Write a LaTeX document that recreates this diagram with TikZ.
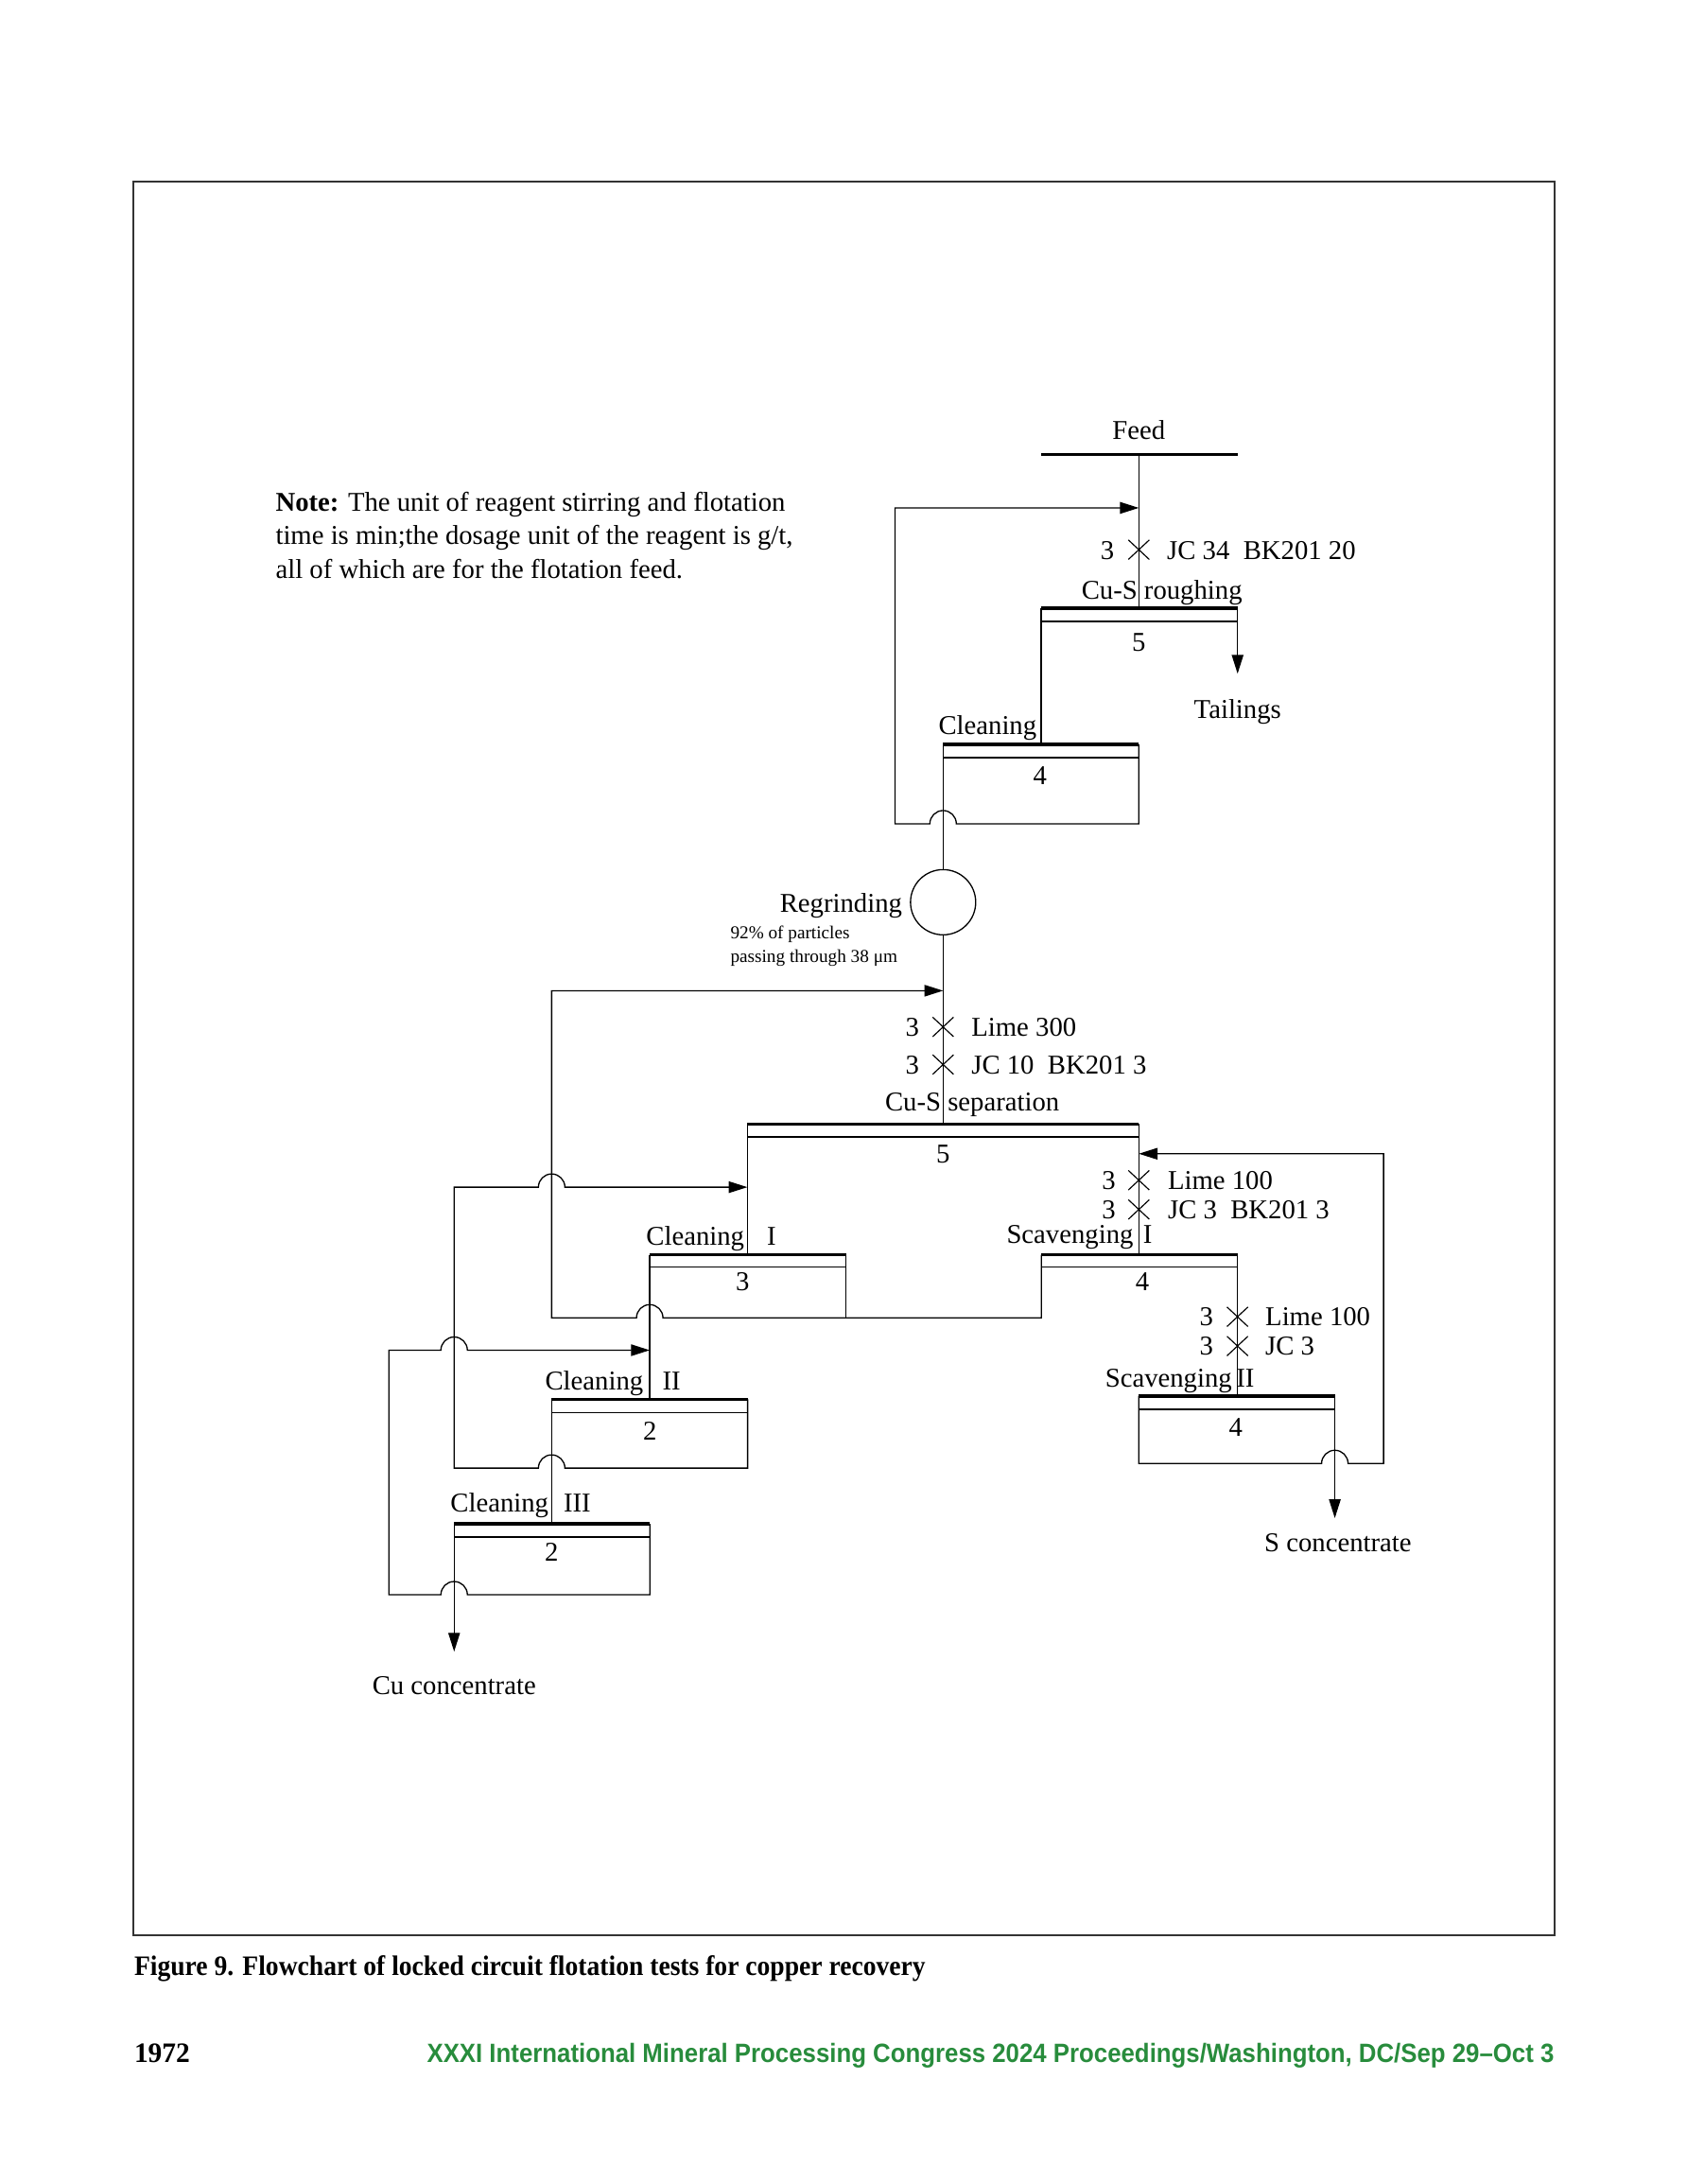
\documentclass[tikz,border=0pt]{standalone}
\usepackage{fontspec}
\setmainfont{Liberation Serif}
\newfontfamily\footsans{Liberation Sans}
\usetikzlibrary{arrows.meta}
\definecolor{imgreen}{RGB}{40,140,60}
\begin{document}
\begin{tikzpicture}[x=0.50538pt,y=-0.50538pt,
  ln/.style={line width=0.45pt, line join=miter},
  bar/.style={line width=1.1pt},
  arr/.style={ln, -{Triangle[length=6.8pt,width=4.2pt]}},
  lbl/.style={font=\fontsize{9.85}{11}\selectfont, inner sep=0pt, yshift=-0.5pt},
  small/.style={font=\fontsize{6.6}{7.5}\selectfont, inner sep=0pt},
  cross/.style={line width=0.4pt},
]
\useasboundingbox (0,0) rectangle (1211,1567.4);
\def\r{9.5}
% frame
\draw[line width=0.75pt, black!80] (95.5,130.3) rectangle (1116,1389);

% ---------- coordinates ----------
\coordinate (feedL) at (747.4,326);   \coordinate (feedR) at (888.4,326);
\coordinate (feedM) at (817.5,326);
\coordinate (rouL) at (747.4,436.5);  \coordinate (rouR) at (888.4,436.5);
\coordinate (rouM) at (817.5,436.5);
\coordinate (clnL) at (677,534.2);    \coordinate (clnR) at (817.5,534.2);
\coordinate (sepL) at (536.5,806.6);  \coordinate (sepR) at (817.5,806.6);
\coordinate (sepM) at (677,806.6);
\coordinate (c1L) at (466.4,900.5);   \coordinate (c1R) at (607.2,900.5);
\coordinate (s1L) at (747.6,900.5);   \coordinate (s1R) at (888.3,900.5);
\coordinate (c2L) at (396,1004.3);    \coordinate (c2R) at (536.7,1004.3);
\coordinate (s2L) at (817.5,1002);    \coordinate (s2R) at (958.2,1002);
\coordinate (c3L) at (326,1093.6);    \coordinate (c3R) at (466.5,1093.6);
\node[draw, circle, ln, minimum size=46.8*0.50538pt, inner sep=0pt] (grind) at (677,647.5) {};
\coordinate (tailEnd) at (888.4,483.5);
\coordinate (sEnd) at (958.2,1089.5);
\coordinate (cuEnd) at (326,1185.3);

% ---------- cells: bars and thin lines ----------
\draw[bar] (feedL) -- (feedR);
\foreach \a/\b/\d in {rouL/rouR/9.5, clnL/clnR/9.5, sepL/sepR/9.4, c1L/c1R/9, s1L/s1R/9,
                      c2L/c2R/9.3, s2L/s2R/9.4, c3L/c3R/9.4}{
  \draw[bar] (\a) -- (\b);
  \draw[ln] ([yshift=-\d*0.50538pt]\a) -- ([yshift=-\d*0.50538pt]\b);
}

% ---------- roughing ----------
\draw[ln] (feedM) -- (rouM);
\draw[ln] (rouL) -- (clnR -| rouL);
\draw[arr] (rouR) -- (tailEnd);
% cleaning -> recycle to roughing feed
\draw[arr] (clnR) -- (817.5,591.2) -- ({677+\r},591.2) arc[start angle=0,end angle=-180,radius=\r]
   -- (642.5,591.2) -- (642.5,364.5) -- (817.5,364.5);
% cleaning concentrate -> regrinding -> separation
\draw[ln] (clnL) -- (grind.north);
\draw[ln] (grind.south) -- (sepM);

% ---------- separation ----------
\draw[ln] (sepR) -- (s1R -| sepR);
\draw[ln] (sepL) -- (c1L -| sepL);
% scavenging I conc + cleaning I tail -> separation feed
\draw[ln] (c1R) -- (607.2,945.8);
\draw[arr] (s1L) -- (747.6,945.8) -- ({466.4+\r},945.8) arc[start angle=0,end angle=-180,radius=\r]
   -- (396,945.8) -- (396,711) -- (677,711);
% scavenging I tail -> scavenging II
\draw[ln] (s1R) -- (888.3,1002);
% scavenging II conc -> scavenging I feed
\draw[arr] (s2L) -- (817.5,1050.3) -- ({958.2-\r},1050.3) arc[start angle=180,end angle=360,radius=\r]
   -- (993.2,1050.3) -- (993.2,828) -- (817.5,828);
\draw[arr] (s2R) -- (sEnd);

% ---------- cleaning circuit ----------
\draw[ln] (c1L) -- (c2R -| c1L);
\draw[ln] (c2L) -- (c3R -| c2L);
% cleaning II tail -> cleaning I feed
\draw[arr] (c2R) -- (536.7,1053.6) -- ({396+\r},1053.6) arc[start angle=0,end angle=-180,radius=\r]
   -- (326,1053.6) -- (326,852) -- ({396-\r},852) arc[start angle=180,end angle=360,radius=\r]
   -- (536.5,852);
% cleaning III tail -> cleaning II feed
\draw[arr] (c3R) -- (466.5,1144.5) -- ({326+\r},1144.5) arc[start angle=0,end angle=-180,radius=\r]
   -- (279.2,1144.5) -- (279.2,969) -- ({326-\r},969) arc[start angle=180,end angle=360,radius=\r]
   -- (466.4,969);
\draw[arr] (c3L) -- (cuEnd);

% ---------- reagent crosses ----------
\foreach \x/\y in {817.5/394.5, 677/737, 677/764, 817.5/847, 817.5/868, 888.3/945, 888.3/966}{
  \draw[cross] (\x-7.5,\y-7) -- (\x+7.5,\y+7) (\x-7.5,\y+7) -- (\x+7.5,\y-7);
}

% ---------- labels ----------
\node[lbl, anchor=base] (tFeed) at (817.5,314) {Feed};
\node[lbl, anchor=base] (r1a) at (795,400.5) {3};
\node[lbl, anchor=base west] (r1b) at (837.4,400.5) {JC 34~~BK201 20};
\node[lbl, anchor=base west] (tRou) at (776,429) {Cu-S roughing};
\node[lbl, anchor=base] (nRou) at (817.5,466.5) {5};
\node[lbl, anchor=base] (tTail) at (888.4,514.5) {Tailings};
\node[lbl, anchor=base east] (tCln) at (744.5,526) {Cleaning};
\node[lbl, anchor=base] (nCln) at (746.5,562) {4};
\node[lbl, anchor=base east] (tGrind) at (648,653.5) {Regrinding};
\node[small, anchor=base west] (g1) at (524,673.5) {92\% of particles};
\node[small, anchor=base west] (g2) at (524,690.5) {passing through 38 μm};
\node[lbl, anchor=base] (r2a) at (655,742.5) {3};
\node[lbl, anchor=base west] (r2b) at (697,742.5) {Lime 300};
\node[lbl, anchor=base] (r3a) at (655,769.5) {3};
\node[lbl, anchor=base west] (r3b) at (697,769.5) {JC 10~~BK201 3};
\node[lbl, anchor=base west] (tSep) at (635,796.5) {Cu-S separation};
\node[lbl, anchor=base] (nSep) at (677,833.5) {5};
\node[lbl, anchor=base] (r4a) at (796,852.5) {3};
\node[lbl, anchor=base west] (r4b) at (838,852.5) {Lime 100};
\node[lbl, anchor=base] (r5a) at (796,873.5) {3};
\node[lbl, anchor=base west] (r5b) at (838,873.5) {JC 3~~BK201 3};
\node[lbl, anchor=base west] (tS1) at (722.2,891.5) {Scavenging\hspace{3.6pt}I};
\node[lbl, anchor=base] (nS1) at (820,925.5) {4};
\node[lbl, anchor=base west] (tC1) at (463.5,892.6) {Cleaning\hspace{8.3pt}I};
\node[lbl, anchor=base] (nC1) at (533,925.5) {3};
\node[lbl, anchor=base] (r6a) at (866,950.5) {3};
\node[lbl, anchor=base west] (r6b) at (908,950.5) {Lime 100};
\node[lbl, anchor=base] (r7a) at (866,971.5) {3};
\node[lbl, anchor=base west] (r7b) at (908,971.5) {JC 3};
\node[lbl, anchor=base west] (tS2) at (793,994.5) {Scavenging\hspace{1.6pt}II};
\node[lbl, anchor=base] (nS2) at (887,1029.5) {4};
\node[lbl, anchor=base] (tSc) at (960.5,1112.5) {S concentrate};
\node[lbl, anchor=base west] (tC2) at (391,996.5) {Cleaning\hspace{7pt}II};
\node[lbl, anchor=base] (nC2) at (466.5,1032.5) {2};
\node[lbl, anchor=base west] (tC3) at (323,1084) {Cleaning\hspace{5.5pt}III};
\node[lbl, anchor=base] (nC3) at (396,1119.5) {2};
\node[lbl, anchor=base] (tCu) at (326,1215) {Cu concentrate};

% note
\node[lbl, anchor=base west] (note1) at (197.5,366) {\textbf{Note:} The unit of reagent stirring and flotation};
\node[lbl, anchor=base west] (note2) at (197.5,390) {time is min;the dosage unit of the reagent is g/t,};
\node[lbl, anchor=base west] (note3) at (197.5,414) {all of which are for the flotation feed.};

% caption and footer
\node[inner sep=0pt, anchor=base west, font=\fontsize{10.2}{12}\selectfont\bfseries] (cap) at (96,1418)
  {\resizebox{287pt}{\height}{Figure 9. Flowchart of locked circuit flotation tests for copper recovery}};
\node[inner sep=0pt, anchor=base west, font=\fontsize{10.2}{12}\selectfont\bfseries] (page) at (96,1480)
  {\resizebox{20.2pt}{\height}{1972}};
\node[inner sep=0pt, anchor=base east, text=imgreen, font=\footsans\fontsize{9.6}{12}\selectfont\bfseries] (foot) at (1116,1480)
  {\resizebox{408.9pt}{\height}{XXXI International Mineral Processing Congress 2024 Proceedings/Washington, DC/Sep 29–Oct 3}};
\end{tikzpicture}
\end{document}
